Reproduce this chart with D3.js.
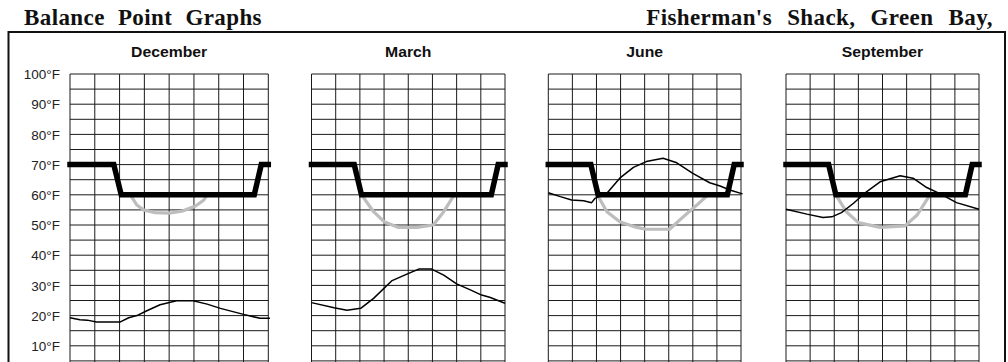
<!DOCTYPE html>
<html>
<head>
<meta charset="utf-8">
<script src="https://cdn.jsdelivr.net/npm/d3@7"></script>
<style>
  html, body { margin: 0; padding: 0; background: #fff; }
  svg { display: block; }
</style>
</head>
<body>
<svg id="chart" width="1008" height="362"></svg>
<script>
// ---------------- DATA ----------------
const chartTitle = "Balance Point Graphs";
const chartSubtitle = "Fisherman's Shack, Green Bay,";
const months = ["December", "March", "June", "September"];
const yTickValues = [10, 20, 30, 40, 50, 60, 70, 80, 90, 100];
const yTickLabels = ["10°F", "20°F", "30°F", "40°F", "50°F", "60°F", "70°F", "80°F", "90°F", "100°F"];

// thermostat setpoint schedule (hour, °F)
const setpointHours = [0, 5.3, 6.2, 22.3, 23.15, 24];
const setpointTemps = [70, 70, 60, 60, 70, 70];

// outdoor temperature (hour, °F)
const decOutdoor = [[0,19.3],[1.2,18.6],[2.1,18.5],[3.2,17.9],[6.1,17.9],[7.1,19.3],[8.1,20],[9.3,21.6],[10.9,23.6],[12.9,24.9],[14.9,24.9],[16.6,23.8],[18.2,22.4],[21,20.4],[23,19.1],[24.2,19.1]];
const marOutdoor = [[0,24.3],[2.8,22.6],[4.4,21.8],[6.1,22.4],[7.7,25.7],[10,31.6],[11.9,33.8],[13.3,35.4],[14.9,35.4],[16.4,33.4],[18,30.5],[19.7,28.5],[21.1,26.8],[22.1,26.1],[24,24.1]];
const junOutdoor = [[0,60.7],[1.5,59.4],[2.9,58.3],[4.4,58],[5.4,57.4],[5.8,58.8],[7.3,60.5],[8.9,65.5],[10.6,69.1],[12.2,71],[14.3,72.1],[16,70.6],[18,67.1],[20.1,64],[21.4,62.9],[22.6,61.6],[24.2,60.3]];
const sepOutdoor = [[0,55.2],[2.6,53.6],[4.6,52.5],[5.7,52.7],[6.9,54.1],[8.4,57.2],[10,61],[11.7,64.3],[14.2,66.3],[15.8,65.5],[17.5,62.4],[19.2,60.3],[21.2,57.4],[24,55.2]];

// balance point temperature (hour, °F)
const decBalance = [[7.3,60],[8.1,56.6],[8.9,55],[10.3,54.1],[12,53.9],[13.7,54.7],[15.2,56.3],[16.2,58.3],[16.6,60]];
const marBalance = [[6.2,60],[7.7,54.4],[9,51.1],[10.8,49.2],[13.1,49.2],[15.1,50],[16.4,54.4],[17.7,60]];
const junBalance = [[6.1,60],[7.3,54.4],[8.9,51.1],[11,49.2],[12.2,48.6],[15.1,48.6],[16.8,52.7],[18.5,56.6],[19.9,60]];
const sepBalance = [[6.2,60],[7.5,54.4],[9,50.8],[11.7,49.2],[14.8,49.7],[16.3,53.3],[17.9,60]];

const outdoorSeries = [decOutdoor, marOutdoor, junOutdoor, sepOutdoor];
const balanceSeries = [decBalance, marBalance, junBalance, sepBalance];

// ---------------- LAYOUT ----------------
const panelExtents = [[70, 268.3], [311.5, 505], [548.3, 741], [786, 979]];
const gridTop = 74, gridBottom = 376;

const svg = d3.select("#chart");

// outer frame
svg.append("rect")
  .attr("x", 8.5).attr("y", 32).attr("width", 996.5).attr("height", 400)
  .attr("fill", "none").attr("stroke", "#111").attr("stroke-width", 2);

// titles
svg.append("text")
  .attr("x", 24).attr("y", 25)
  .attr("font-family", "'Liberation Serif', 'Times New Roman', serif")
  .attr("font-weight", "bold").attr("font-size", 23)
  .attr("letter-spacing", 0.4).attr("word-spacing", 7)
  .attr("fill", "#111")
  .text(chartTitle);
svg.append("text")
  .attr("x", 993).attr("y", 25).attr("text-anchor", "end")
  .attr("font-family", "'Liberation Serif', 'Times New Roman', serif")
  .attr("font-weight", "bold").attr("font-size", 23)
  .attr("letter-spacing", 0.4).attr("word-spacing", 9)
  .attr("fill", "#111")
  .text(chartSubtitle);

const y = d3.scaleLinear().domain([0, 100]).range([gridBottom, gridTop]);
const gridValues = d3.range(0, 101, 5);

months.forEach((m, i) => {
  const [x0, x1] = panelExtents[i];
  const x = d3.scaleLinear().domain([0, 24]).range([x0, x1]);
  const g = svg.append("g");

  // grid
  g.selectAll("line.h").data(gridValues).join("line")
    .attr("x1", x0).attr("x2", x1)
    .attr("y1", d => y(d)).attr("y2", d => y(d))
    .attr("stroke", "#1a1a1a").attr("stroke-width", 1);
  g.selectAll("line.v").data(d3.range(0, 25, 3)).join("line")
    .attr("x1", d => x(d)).attr("x2", d => x(d))
    .attr("y1", gridTop).attr("y2", gridBottom)
    .attr("stroke", "#1a1a1a").attr("stroke-width", 1);

  // month title
  g.append("text")
    .attr("transform", `translate(${(x0 + x1) / 2},57) scale(1.05,1)`)
    .attr("text-anchor", "middle")
    .attr("font-family", "'Liberation Sans', Arial, sans-serif")
    .attr("font-weight", "bold").attr("font-size", 15)
    .attr("fill", "#111")
    .text(m);

  const line = d3.line().x(d => x(d[0])).y(d => y(d[1]));

  // balance point (gray)
  g.append("path").datum(balanceSeries[i])
    .attr("d", line).attr("fill", "none")
    .attr("stroke", "#bdbdbd").attr("stroke-width", 3.2)
    .attr("stroke-linejoin", "round");

  // outdoor temperature
  g.append("path").datum(outdoorSeries[i])
    .attr("d", line).attr("fill", "none")
    .attr("stroke", "#000").attr("stroke-width", 1.5)
    .attr("stroke-linejoin", "round");

  // setpoint
  const sp = setpointHours.map((h, k) => [h, setpointTemps[k]]);
  g.append("path").datum(sp)
    .attr("d", line).attr("fill", "none")
    .attr("stroke", "#000").attr("stroke-width", 5.5)
    .attr("stroke-linecap", "square").attr("stroke-linejoin", "miter");
});

// y axis labels (left of first panel)
const yAxis = d3.axisLeft(y).tickValues(yTickValues)
  .tickFormat((d, k) => yTickLabels[k]).tickSize(0).tickPadding(0);
const ya = svg.append("g").attr("transform", "translate(60,0)").call(yAxis);
ya.select(".domain").remove();
ya.selectAll("text")
  .attr("font-family", "'Liberation Sans', Arial, sans-serif")
  .attr("font-size", 13.5).attr("fill", "#222")
  .attr("dy", "0.35em");
</script>
</body>
</html>
